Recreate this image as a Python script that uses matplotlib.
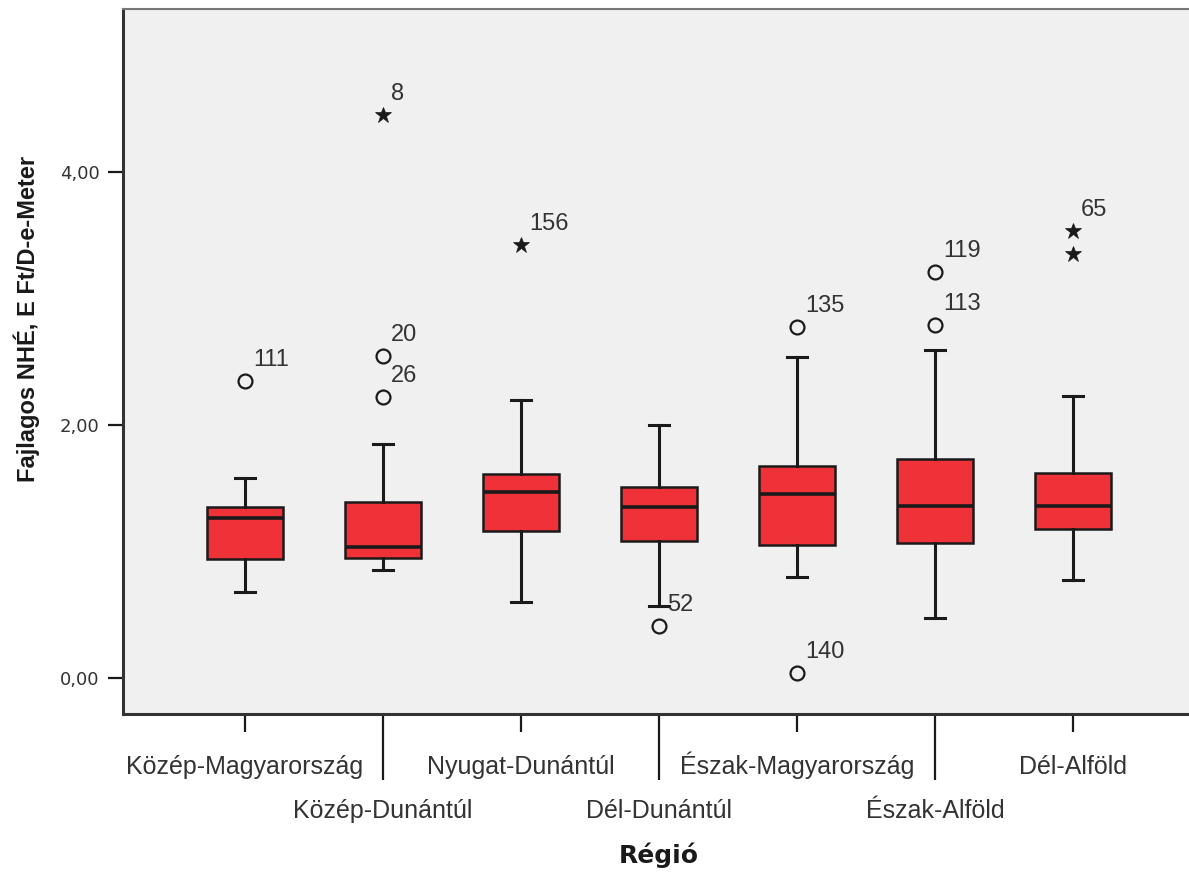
import matplotlib
matplotlib.use("Agg")
import matplotlib.pyplot as plt

# ---------------- data ----------------
regions = ["Közép-Magyarország", "Közép-Dunántúl", "Nyugat-Dunántúl", "Dél-Dunántúl",
           "Észak-Magyarország", "Észak-Alföld", "Dél-Alföld"]
q1 = [0.938, 0.950, 1.159, 1.082, 1.051, 1.069, 1.175]
median = [1.261, 1.037, 1.467, 1.351, 1.451, 1.359, 1.359]
q3 = [1.348, 1.390, 1.614, 1.511, 1.677, 1.732, 1.619]
whisker_low = [0.679, 0.853, 0.598, 0.569, 0.800, 0.472, 0.774]
whisker_high = [1.577, 1.846, 2.194, 1.998, 2.536, 2.588, 2.225]

outlier_region = [0, 1, 1, 3, 4, 4, 5, 5]
outlier_value = [2.348, 2.543, 2.222, 0.411, 2.770, 0.037, 3.209, 2.791]
outlier_label = ["111", "20", "26", "52", "135", "140", "119", "113"]

extreme_region = [1, 2, 6, 6]
extreme_value = [4.447, 3.420, 3.531, 3.352]
extreme_label = ["8", "156", "65", ""]

ytick_values = [0, 2, 4]
ytick_labels = ["0,00", "2,00", "4,00"]

y_title = "Fajlagos NHÉ, E Ft/D-e-Meter"
x_title = "Régió"

# ---------------- style ----------------
plt.rcParams["font.family"] = ["Liberation Sans", "DejaVu Sans"]
box_color = "#EF3238"
bg_color = "#F0F0F0"
dark = "#1a1a1a"

fig = plt.figure(figsize=(11.89, 8.76), dpi=100)
ax = fig.add_axes([123 / 1189, (876 - 714) / 876, (1195 - 123) / 1189, (714 - 9) / 876])
ax.set_facecolor(bg_color)

stats = []
for i, name in enumerate(regions):
    stats.append(dict(label=name, med=median[i], q1=q1[i], q3=q3[i],
                      whislo=whisker_low[i], whishi=whisker_high[i], fliers=[]))

positions = list(range(len(regions)))
ax.bxp(stats, positions=positions, widths=0.555, showfliers=False, patch_artist=True,
       boxprops=dict(facecolor=box_color, edgecolor=dark, linewidth=1.8),
       medianprops=dict(color=dark, linewidth=2.6),
       whiskerprops=dict(color=dark, linewidth=2.2),
       capprops=dict(color=dark, linewidth=2.2),
       capwidths=0.145, manage_ticks=False)

# outliers (circles)
ax.plot(outlier_region, outlier_value, linestyle="none", marker="o", markersize=10,
        markerfacecolor="none", markeredgecolor=dark, markeredgewidth=1.6, zorder=4)
# extremes (stars)
ax.plot(extreme_region, extreme_value, linestyle="none", marker="*", markersize=12,
        markerfacecolor=dark, markeredgecolor=dark, markeredgewidth=0.5, zorder=4)

for r, v, lab in zip(outlier_region, outlier_value, outlier_label):
    ax.annotate(lab, (r, v), xytext=(8, 15), textcoords="offset pixels",
                ha="left", va="baseline", fontsize=17, color="#333333")
for r, v, lab in zip(extreme_region, extreme_value, extreme_label):
    if lab:
        ax.annotate(lab, (r, v), xytext=(8, 15), textcoords="offset pixels",
                    ha="left", va="baseline", fontsize=17, color="#333333")

ax.set_xlim(-0.884, 6.884)
ax.set_ylim(-0.284, 5.284)

# y axis
ax.set_yticks(ytick_values, labels=ytick_labels)
ax.tick_params(axis="y", which="major", length=11, width=1.6, pad=6,
               labelsize=13, color=dark, labelcolor="#333333")
for t in ax.get_yticklabels():
    t.set_fontfamily("DejaVu Sans")

# x axis: staggered labels via major (even) and minor (odd) ticks
even = positions[0::2]
odd = positions[1::2]
ax.set_xticks(even, labels=[regions[i] for i in even])
ax.set_xticks(odd, labels=[regions[i] for i in odd], minor=True)
ax.tick_params(axis="x", which="major", length=13, width=1.6, pad=30,
               labelsize=18, color=dark, labelcolor="#333333")
ax.tick_params(axis="x", which="minor", length=47.5, width=1.6, pad=27.6,
               labelsize=18, color=dark, labelcolor="#333333")
for t in ax.get_xticklabels() + ax.get_xticklabels(minor=True):
    t.set_verticalalignment("baseline")

# spines
for s in ["left", "bottom"]:
    ax.spines[s].set_linewidth(2.2)
    ax.spines[s].set_color("#333333")
ax.spines["top"].set_linewidth(1.5)
ax.spines["top"].set_color("#777777")
ax.spines["right"].set_visible(False)

ax.set_ylabel(y_title, fontsize=17, fontweight="bold", color=dark, va="center", ha="center")
ax.yaxis.set_label_coords(-0.0896, 0.560)
ax.set_xlabel(x_title, fontsize=18, fontweight="bold", color=dark, va="baseline", ha="center",
              fontfamily="DejaVu Sans")
ax.xaxis.set_label_coords(0.5, -0.2118)

fig.savefig("out.png", dpi=100, facecolor="white")
